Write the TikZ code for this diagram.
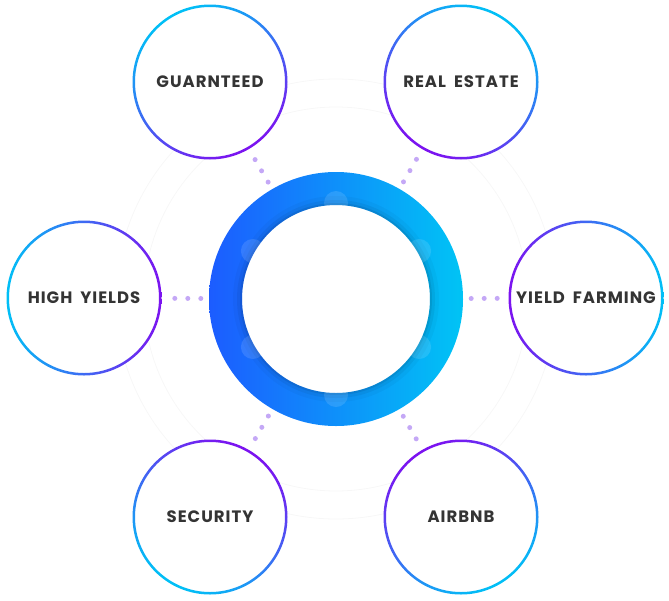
\documentclass[tikz,border=0pt]{standalone}
\usepackage{fontspec}
\newfontfamily\topicfont[LetterSpace=6,WordSpace=1.8]{Poppins}
\usepackage{tikz}
\usetikzlibrary{calc}

\definecolor{ringblue}{RGB}{28,92,255}
\definecolor{ringcyan}{RGB}{0,196,245}
\definecolor{edgecyan}{RGB}{0,192,246}
\definecolor{edgeviolet}{RGB}{124,18,240}
\definecolor{dotlilac}{RGB}{196,168,246}
\definecolor{labelgray}{RGB}{52,52,52}

\begin{document}
\begin{tikzpicture}[
                        x=1pt,
                        y=-1pt,
                        hub/.style={circle,minimum size=254pt,inner sep=0pt},
                        topic/.style={circle,minimum size=154pt,inner sep=0pt,fill=white,
                                      text=labelgray,font=\topicfont\bfseries\fontsize{16.5}{16.5}\selectfont},
                        link/.style={draw=dotlilac,line width=5pt,line cap=round,
                                     dash pattern=on 0pt off 13pt,shorten <=8pt,shorten >=9pt}
                    ]
                    \useasboundingbox (0,0) rectangle (669,600);

                    % faint background arcs
                    \draw[black!3,line width=0.8pt] (336,299) circle (192) (336,299) circle (220);

                    \node[hub]   (hub)  at (336,299) {};
                    \node[topic] (guar) at (210,82)  {GUARNTEED};
                    \node[topic] (real) at (461,82)  {REAL ESTATE};
                    \node[topic] (high) at (84,298)  {HIGH YIELDS};
                    \node[topic] (farm) at (586,298) {YIELD FARMING};
                    \node[topic] (secu) at (210,517) {SECURITY};
                    \node[topic] (airb) at (461,517) {AIRBNB};

                    % gradient rims, violet side towards the hub
                    \foreach \n/\a in {guar/30,real/-30,high/90,farm/-90,secu/150,airb/210}
                        \shade[even odd rule,top color=edgecyan,bottom color=edgeviolet,shading angle=\a]
                            (\n.center) circle (77.5) (\n.center) circle (75);

                    % central ring
                    \shade[even odd rule,left color=ringblue,right color=ringcyan]
                        (hub.center) circle (127) (hub.center) circle (94);
                    \foreach \w/\o in {2/0.08,5/0.05,9/0.03}
                        \draw[black,opacity=\o,line width=\w pt] (hub.center) circle (94+\w/2);
                    \foreach \a in {90,30,-30,-90,-150,150}
                        \fill[white,opacity=0.12] ($(hub.center)+(\a:96)$) circle (12);

                    \foreach \n in {guar,real,high,farm,secu,airb}
                        \draw[link] (hub) -- (\n);

                \end{tikzpicture}
\end{document}
